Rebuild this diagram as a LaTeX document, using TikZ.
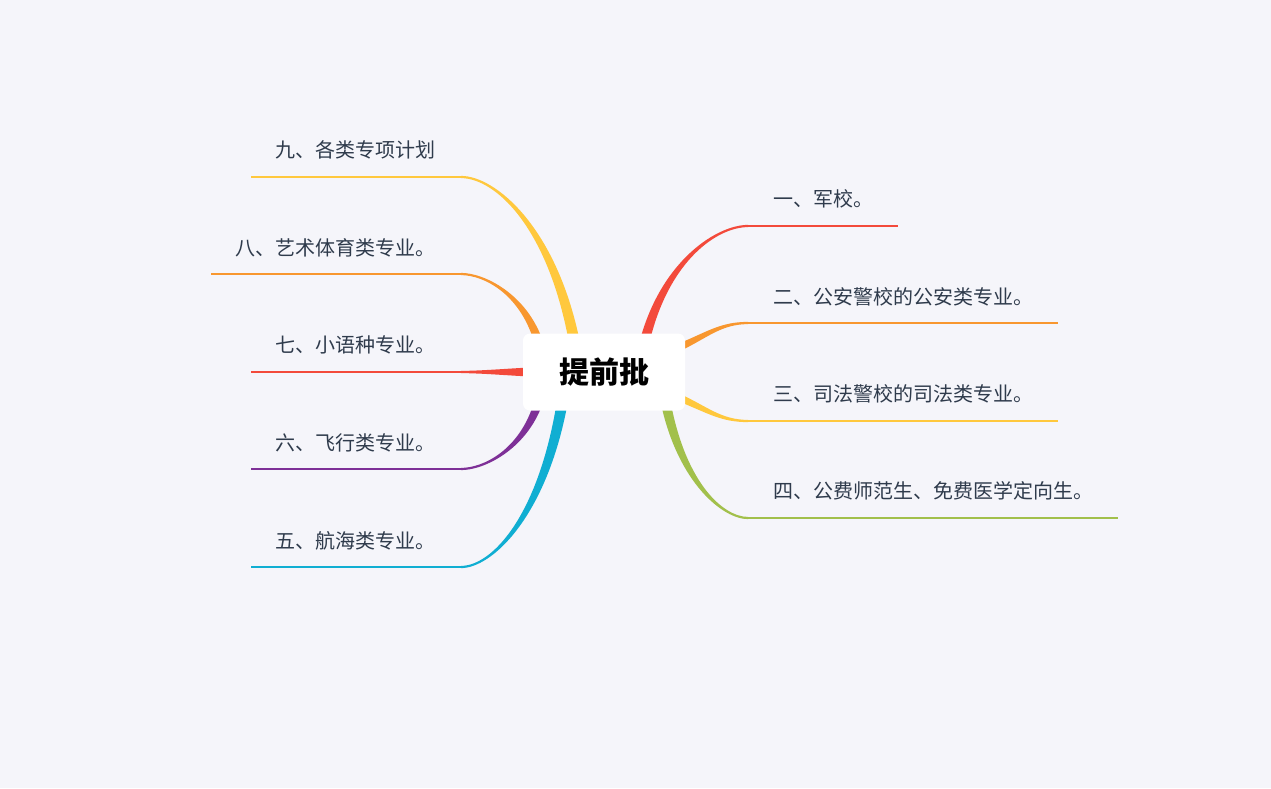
\documentclass[tikz,border=0pt]{standalone}
\usepackage{fontspec}
\newfontfamily\cjk{Noto Sans CJK SC}
\usetikzlibrary{calc}

\definecolor{bgcol}{HTML}{F5F5FA}
\definecolor{txtcol}{HTML}{2F3B4C}
\definecolor{cred}{HTML}{F34A3B}
\definecolor{corange}{HTML}{F8972F}
\definecolor{cyellow}{HTML}{FFC83D}
\definecolor{cgreen}{HTML}{A2C04B}
\definecolor{cpurple}{HTML}{7E3097}
\definecolor{ccyan}{HTML}{10AED2}

\pgfdeclarelayer{back}
\pgfsetlayers{back,main}

% tapered branch: colour, root, end, c1 x/y fraction, c2 x fraction, root half-width (x,y)
\newcommand{\limb}[8]{%
  \fill[#1] let \p1=(#2), \p2=(#3) in
    ({\x1-(#7)}, {\y1-(#8)})
    .. controls ({\x1+#4*(\x2-\x1)-0.8*(#7)}, {\y1+#5*(\y2-\y1)-0.8*(#8)})
            and ({\x1+#6*(\x2-\x1)}, {\y2+1.2}) .. ({\x2}, {\y2+1.1})
    -- ({\x2}, {\y2-1.1})
    .. controls ({\x1+#6*(\x2-\x1)}, {\y2-1.2})
            and ({\x1+#4*(\x2-\x1)+0.8*(#7)}, {\y1+#5*(\y2-\y1)+0.8*(#8)}) .. ({\x1+(#7)}, {\y1+(#8)})
    -- cycle;}

\begin{document}
\begin{tikzpicture}[
  x=1pt, y=-1pt,
  hub/.style={fill=white, rounded corners=7pt, minimum width=162pt, minimum height=77pt,
    inner sep=0pt, font=\cjk\bfseries\fontsize{30}{32}\selectfont, text=black},
  leaf/.style={anchor=west, inner sep=0pt, text=txtcol, font=\cjk\fontsize{20}{24}\selectfont},
  twig/.style={line width=2.2pt}
]
  \useasboundingbox (0,0) rectangle (1271,788);
  \begin{pgfonlayer}{back}
    \fill[bgcol] (0,0) rectangle (1271,788);
  \end{pgfonlayer}

  \node[hub] (ctr) at (604,372) {提前批};

  % right side
  \node[leaf] (t1) at (773,199) {一、军校。};
  \node[leaf] (t2) at (773,297) {二、公安警校的公安类专业。};
  \node[leaf] (t3) at (773,394) {三、司法警校的司法类专业。};
  \node[leaf] (t4) at (773,491) {四、公费师范生、免费医学定向生。};
  % left side
  \node[leaf] (t9) at (275,150) {九、各类专项计划};
  \node[leaf] (t8) at (235,248) {八、艺术体育类专业。};
  \node[leaf] (t7) at (275,345) {七、小语种专业。};
  \node[leaf] (t6) at (275,443) {六、飞行类专业。};
  \node[leaf] (t5) at (275,541) {五、航海类专业。};

  \coordinate (r1) at ($(ctr)+(41,-32)$);
  \coordinate (r2) at ($(ctr)+(76,-25)$);
  \coordinate (r3) at ($(ctr)+(76,26)$);
  \coordinate (r4) at ($(ctr)+(62,32)$);
  \coordinate (r9) at ($(ctr)+(-30,-32)$);
  \coordinate (r8) at ($(ctr)+(-66,-32)$);
  \coordinate (r7) at ($(ctr)+(-74,0)$);
  \coordinate (r6) at ($(ctr)+(-66,32)$);
  \coordinate (r5) at ($(ctr)+(-42,32)$);

  \coordinate (e1) at (748,226);  \coordinate (f1) at (898,226);
  \coordinate (e2) at (748,323);  \coordinate (f2) at (1058,323);
  \coordinate (e3) at (748,421);  \coordinate (f3) at (1058,421);
  \coordinate (e4) at (748,518);  \coordinate (f4) at (1118,518);
  \coordinate (e9) at (461,177);  \coordinate (f9) at (251,177);
  \coordinate (e8) at (461,274);  \coordinate (f8) at (211,274);
  \coordinate (e7) at (461,372);  \coordinate (f7) at (251,372);
  \coordinate (e6) at (461,469);  \coordinate (f6) at (251,469);
  \coordinate (e5) at (461,567);  \coordinate (f5) at (251,567);

  \begin{pgfonlayer}{back}
    \limb{cred}{r1}{e1}{0.2}{0.7}{0.7}{5}{0}
    \limb{corange}{r2}{e2}{0.4}{0.5}{0.6}{0}{-4}
    \limb{cyellow}{r3}{e3}{0.4}{0.5}{0.6}{0}{-4}
    \limb{cgreen}{r4}{e4}{0.2}{0.7}{0.7}{-5}{0}
    \limb{cyellow}{r9}{e9}{0.2}{0.7}{0.7}{-5.5}{0}
    \limb{corange}{r8}{e8}{0.2}{0.7}{0.7}{-4.5}{0}
    \limb{cred}{r7}{e7}{0.3}{0}{0.7}{0}{-4.5}
    \limb{cpurple}{r6}{e6}{0.2}{0.7}{0.7}{4.5}{0}
    \limb{ccyan}{r5}{e5}{0.2}{0.7}{0.7}{5.5}{0}
  \end{pgfonlayer}

  \draw[twig, cred] (e1) -- (f1);
  \draw[twig, corange] (e2) -- (f2);
  \draw[twig, cyellow] (e3) -- (f3);
  \draw[twig, cgreen] (e4) -- (f4);
  \draw[twig, cyellow] (e9) -- (f9);
  \draw[twig, corange] (e8) -- (f8);
  \draw[twig, cred] (e7) -- (f7);
  \draw[twig, cpurple] (e6) -- (f6);
  \draw[twig, ccyan] (e5) -- (f5);
\end{tikzpicture}
\end{document}
